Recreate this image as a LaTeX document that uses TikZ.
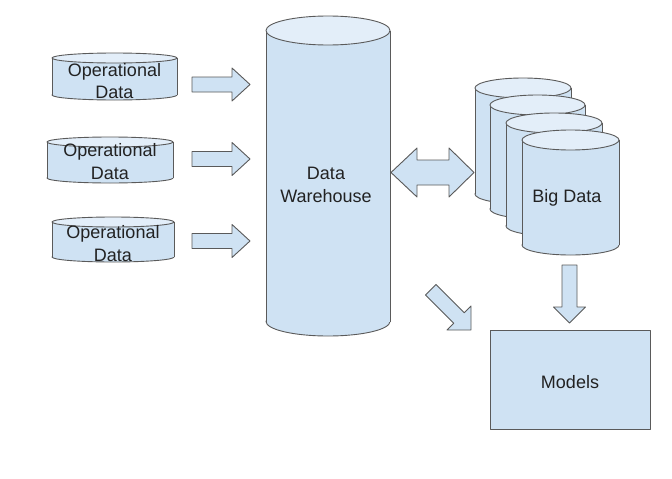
\documentclass[tikz,border=0pt]{standalone}
\usepackage{fontspec}
\setmainfont{Liberation Sans}
\definecolor{bodycol}{HTML}{CFE2F3}
\definecolor{topcol}{HTML}{E3EEF9}
\definecolor{edgecol}{HTML}{5A5A5A}
\definecolor{txtcol}{HTML}{222222}
\tikzset{
  edge/.style={draw=edgecol, line width=0.9pt, line join=round},
  blk/.style={edge, fill=bodycol},
  lbl/.style={text=txtcol, font=\fontsize{18}{22.5}\selectfont, align=center, inner sep=0pt}
}
\newcommand\dbcyl[5]{% cx, top, bottom, rx, ry
  \path[edge, fill=bodycol] (#1,#3-#5) ellipse [x radius=#4pt, y radius=#5pt];
  \fill[bodycol] (#1-#4,#2+#5) rectangle (#1+#4,#3-#5);
  \draw[edge] (#1-#4,#2+#5) -- (#1-#4,#3-#5) (#1+#4,#2+#5) -- (#1+#4,#3-#5);
  \path[edge, fill=topcol] (#1,#2+#5) ellipse [x radius=#4pt, y radius=#5pt];
}
\newcommand\rblock[1]{%
  \path[blk] (192,#1-7.5) -- (232,#1-7.5) -- (232,#1-16.5) -- (250,#1) -- (232,#1+16.5) -- (232,#1+7.5) -- (192,#1+7.5) -- cycle;
}
\begin{document}
\begin{tikzpicture}[x=1pt,y=-1pt]
\fill[white] (0,0) rectangle (672,479);
\useasboundingbox (0,0) rectangle (672,479);

% operational data cylinders
\dbcyl{114.5}{53}{100}{62.5}{5}
\node[lbl] (op1) at (114.5,81) {Operational\\Data};
\dbcyl{110}{137}{183}{63}{5}
\node[lbl] (op2) at (110,161.5) {Operational\\Data};
\dbcyl{113}{217}{262}{61}{5}
\node[lbl] (op3) at (113,243.5) {Operational\\Data};

% arrows into warehouse
\rblock{84.5}
\rblock{159}
\rblock{241}

% warehouse
\dbcyl{328}{16}{336}{62}{14.5}
\node[lbl] (dw) at (326,185) {Data\\Warehouse};

% double arrow
\path[blk] (391,172.5) -- (417,148) -- (417,160) -- (449,160) -- (449,148) -- (474,172.5)
  -- (449,197) -- (449,185) -- (417,185) -- (417,197) -- cycle;

% big data stack
\dbcyl{523}{78}{204}{48}{10}
\dbcyl{537.5}{95}{219}{47.5}{10}
\dbcyl{554}{113}{236}{48}{10}
\dbcyl{570.5}{130}{255}{48.5}{10}
\node[lbl] (bd) at (567,198) {Big Data};

% down arrow
\path[blk] (562,265) -- (577,265) -- (577,307) -- (585.5,307) -- (569.5,323) -- (553.5,307) -- (562,307) -- cycle;

% diagonal arrow
\path[blk] (436,284.4) -- (464.3,312.7) -- (471,306) -- (471,330) -- (447,330) -- (453.7,323.3) -- (425.4,295) -- cycle;

% models
\path[blk] (490,330) rectangle (650,429);
\node[lbl] (models) at (570,382) {Models};
\end{tikzpicture}
\end{document}
